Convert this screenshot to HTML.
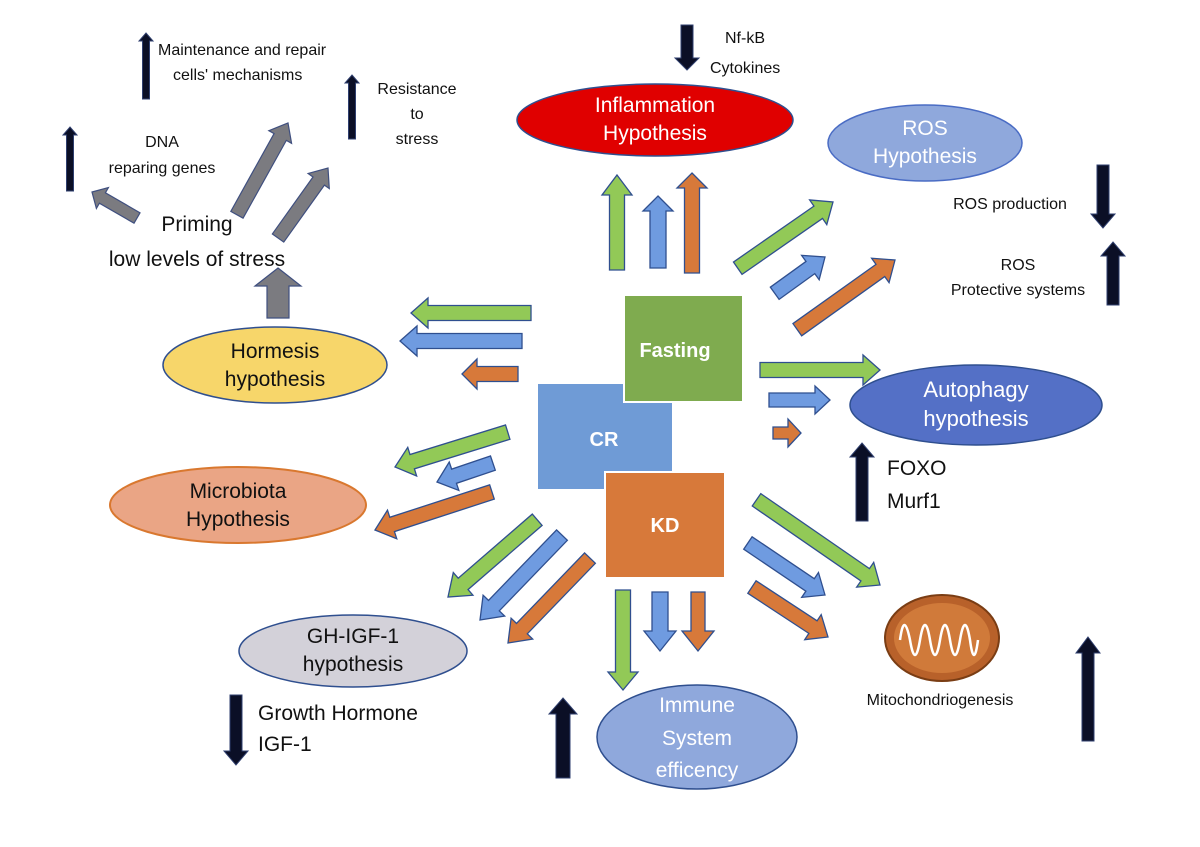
<!DOCTYPE html>
<html><head><meta charset="utf-8"><style>
html,body{margin:0;padding:0;background:#fff}
svg{display:block}
text{font-family:"Liberation Sans",sans-serif}
</style></head><body>
<svg width="1200" height="847" viewBox="0 0 1200 847" xmlns="http://www.w3.org/2000/svg">
<defs>
<!-- arrow along +x -->
<polygon id="aG" points="0,-7.5 -20,-7.5 -20,-15 0,0 -20,15 -20,7.5" />
</defs>
<rect width="1200" height="847" fill="#fff"/>

<!-- Ellipses -->
<ellipse cx="655" cy="120" rx="138" ry="36" fill="#e00000" stroke="#2f4f8f" stroke-width="1.5"/>
<text x="655" y="112" font-size="21" fill="#fff" text-anchor="middle">Inflammation</text>
<text x="655" y="140" font-size="21" fill="#fff" text-anchor="middle">Hypothesis</text>

<ellipse cx="925" cy="143" rx="97" ry="38" fill="#8fa8dc" stroke="#4a6cc4" stroke-width="1.5"/>
<text x="925" y="135" font-size="21" fill="#fff" text-anchor="middle">ROS</text>
<text x="925" y="163" font-size="21" fill="#fff" text-anchor="middle">Hypothesis</text>

<ellipse cx="976" cy="405" rx="126" ry="40" fill="#5470c6" stroke="#2f4f8f" stroke-width="1.5"/>
<text x="976" y="397" font-size="22" fill="#fff" text-anchor="middle">Autophagy</text>
<text x="976" y="426" font-size="22" fill="#fff" text-anchor="middle">hypothesis</text>

<ellipse cx="275" cy="365" rx="112" ry="38" fill="#f7d66a" stroke="#2f4f8f" stroke-width="1.5"/>
<text x="275" y="358" font-size="21" fill="#111" text-anchor="middle">Hormesis</text>
<text x="275" y="386" font-size="21" fill="#111" text-anchor="middle">hypothesis</text>

<ellipse cx="238" cy="505" rx="128" ry="38" fill="#eaa585" stroke="#d9782f" stroke-width="2"/>
<text x="238" y="498" font-size="21" fill="#111" text-anchor="middle">Microbiota</text>
<text x="238" y="526" font-size="21" fill="#111" text-anchor="middle">Hypothesis</text>

<ellipse cx="353" cy="651" rx="114" ry="36" fill="#d3d1d9" stroke="#2f4f8f" stroke-width="1.5"/>
<text x="353" y="643" font-size="21" fill="#111" text-anchor="middle">GH-IGF-1</text>
<text x="353" y="671" font-size="21" fill="#111" text-anchor="middle">hypothesis</text>

<ellipse cx="697" cy="737" rx="100" ry="52" fill="#8fa8dc" stroke="#2f4f8f" stroke-width="1.5"/>
<text x="697" y="712" font-size="21" fill="#fff" text-anchor="middle">Immune</text>
<text x="697" y="745" font-size="21" fill="#fff" text-anchor="middle">System</text>
<text x="697" y="777" font-size="21" fill="#fff" text-anchor="middle">efficency</text>

<!-- Mitochondrion -->
<ellipse cx="942" cy="638" rx="57" ry="43" fill="#b8612a" stroke="#7a3d14" stroke-width="2"/>
<ellipse cx="942" cy="638" rx="48" ry="35" fill="#d07a3a"/>
<path d="M900,640 q4,-30 10,0 q5,30 10,0 q5,-30 10,0 q5,30 10,0 q5,-30 10,0 q5,30 10,0 q5,-30 10,0 q4,30 8,0" fill="none" stroke="#fff" stroke-width="2.5"/>
<text x="940" y="705" font-size="16" fill="#111" text-anchor="middle">Mitochondriogenesis</text>

<!-- Boxes -->
<rect x="537" y="383" width="136" height="107" fill="#6f9bd6" stroke="#fff" stroke-width="2"/>
<rect x="624" y="295" width="119" height="107" fill="#7fab4f" stroke="#fff" stroke-width="2"/>
<rect x="605" y="472" width="120" height="106" fill="#d7793a" stroke="#fff" stroke-width="2"/>
<text x="675" y="357" font-size="20" font-weight="bold" fill="#fff" text-anchor="middle">Fasting</text>
<text x="604" y="446" font-size="20" font-weight="bold" fill="#fff" text-anchor="middle">CR</text>
<text x="665" y="532" font-size="20" font-weight="bold" fill="#fff" text-anchor="middle">KD</text>

<!-- Colored arrows: translate(tip) rotate(angle) with shape pointing to +x, tail negative -->
<g stroke="#2f4f8f" stroke-width="1.3">
<!-- up -->
<polygon fill="#92c957" transform="translate(617,175) rotate(-90)" points="0,0 -20,15 -20,7.5 -95,7.5 -95,-7.5 -20,-7.5 -20,-15"/>
<polygon fill="#6f9be0" transform="translate(658,196) rotate(-90)" points="0,0 -15,15 -15,8 -72,8 -72,-8 -15,-8 -15,-15"/>
<polygon fill="#d7793a" transform="translate(692,173) rotate(-90)" points="0,0 -15,15 -15,7.5 -100,7.5 -100,-7.5 -15,-7.5 -15,-15"/>
<!-- upper right -->
<polygon fill="#92c957" transform="translate(833,202) rotate(-34.8)" points="0,0 -18,15 -18,7.5 -116,7.5 -116,-7.5 -18,-7.5 -18,-15"/>
<polygon fill="#6f9be0" transform="translate(825,257) rotate(-35.8)" points="0,0 -18,15 -18,7.5 -62,7.5 -62,-7.5 -18,-7.5 -18,-15"/>
<polygon fill="#d7793a" transform="translate(895,260) rotate(-35.5)" points="0,0 -18,15 -18,7.5 -120,7.5 -120,-7.5 -18,-7.5 -18,-15"/>
<!-- right -->
<polygon fill="#92c957" transform="translate(880,370)" points="0,0 -17,15 -17,7.5 -120,7.5 -120,-7.5 -17,-7.5 -17,-15"/>
<polygon fill="#6f9be0" transform="translate(830,400)" points="0,0 -15,14 -15,7 -61,7 -61,-7 -15,-7 -15,-14"/>
<polygon fill="#d7793a" transform="translate(801,433)" points="0,0 -13,14 -13,6 -28,6 -28,-6 -13,-6 -13,-14"/>
<!-- left -->
<polygon fill="#92c957" transform="translate(411,313) rotate(180)" points="0,0 -17,15 -17,7.5 -120,7.5 -120,-7.5 -17,-7.5 -17,-15"/>
<polygon fill="#6f9be0" transform="translate(400,341) rotate(180)" points="0,0 -17,15 -17,7.5 -122,7.5 -122,-7.5 -17,-7.5 -17,-15"/>
<polygon fill="#d7793a" transform="translate(462,374) rotate(180)" points="0,0 -15,15 -15,7.5 -56,7.5 -56,-7.5 -15,-7.5 -15,-15"/>
<!-- lower left -->
<polygon fill="#92c957" transform="translate(395,467) rotate(162.8)" points="0,0 -18,15 -18,7.5 -118,7.5 -118,-7.5 -18,-7.5 -18,-15"/>
<polygon fill="#6f9be0" transform="translate(437,482) rotate(161.3)" points="0,0 -18,15 -18,7.5 -59,7.5 -59,-7.5 -18,-7.5 -18,-15"/>
<polygon fill="#d7793a" transform="translate(375,530) rotate(162)" points="0,0 -18,15 -18,7.5 -123,7.5 -123,-7.5 -18,-7.5 -18,-15"/>
<!-- down left -->
<polygon fill="#92c957" transform="translate(448,597) rotate(139.1)" points="0,0 -20,15 -20,7.5 -118,7.5 -118,-7.5 -20,-7.5 -20,-15"/>
<polygon fill="#6f9be0" transform="translate(480,620) rotate(134)" points="0,0 -20,15 -20,7.5 -118,7.5 -118,-7.5 -20,-7.5 -20,-15"/>
<polygon fill="#d7793a" transform="translate(508,643) rotate(134)" points="0,0 -20,15 -20,7.5 -118,7.5 -118,-7.5 -20,-7.5 -20,-15"/>
<!-- down -->
<polygon fill="#92c957" transform="translate(623,690) rotate(90)" points="0,0 -18,15 -18,7.5 -100,7.5 -100,-7.5 -18,-7.5 -18,-15"/>
<polygon fill="#6f9be0" transform="translate(660,651) rotate(90)" points="0,0 -20,16 -20,8 -59,8 -59,-8 -20,-8 -20,-16"/>
<polygon fill="#d7793a" transform="translate(698,651) rotate(90)" points="0,0 -20,16 -20,7 -59,7 -59,-7 -20,-7 -20,-16"/>
<!-- down right -->
<polygon fill="#92c957" transform="translate(880,585) rotate(34.6)" points="0,0 -18,15 -18,7.5 -150,7.5 -150,-7.5 -18,-7.5 -18,-15"/>
<polygon fill="#6f9be0" transform="translate(825,595) rotate(34)" points="0,0 -18,15 -18,7.5 -93,7.5 -93,-7.5 -18,-7.5 -18,-15"/>
<polygon fill="#d7793a" transform="translate(828,637) rotate(33.3)" points="0,0 -18,15 -18,7.5 -91,7.5 -91,-7.5 -18,-7.5 -18,-15"/>
</g>

<!-- Gray arrows -->
<g fill="#7b7b80" stroke="#3f4f7f" stroke-width="1.2">
<polygon transform="translate(278,268) rotate(-90)" points="0,0 -18,23 -18,11 -50,11 -50,-11 -18,-11 -18,-23"/>
<polygon transform="translate(92,192) rotate(-150)" points="0,0 -12,12 -12,6 -52,6 -52,-6 -12,-6 -12,-12"/>
<polygon transform="translate(288,123) rotate(-60.9)" points="0,0 -16,13 -16,7 -105,7 -105,-7 -16,-7 -16,-13"/>
<polygon transform="translate(328,168) rotate(-54.5)" points="0,0 -16,13 -16,7 -86,7 -86,-7 -16,-7 -16,-13"/>
</g>

<!-- Black arrows -->
<g fill="#0b0f26" stroke="#2f3f6f" stroke-width="1">
<polygon transform="translate(687,70) rotate(90)" points="0,0 -12,12 -12,6 -45,6 -45,-6 -12,-6 -12,-12"/>
<polygon transform="translate(146,33) rotate(-90)" points="0,0 -8,7 -8,3.5 -66,3.5 -66,-3.5 -8,-3.5 -8,-7"/>
<polygon transform="translate(70,127) rotate(-90)" points="0,0 -8,7 -8,3.5 -64,3.5 -64,-3.5 -8,-3.5 -8,-7"/>
<polygon transform="translate(352,75) rotate(-90)" points="0,0 -8,7 -8,3.5 -64,3.5 -64,-3.5 -8,-3.5 -8,-7"/>
<polygon transform="translate(1103,228) rotate(90)" points="0,0 -14,12 -14,6 -63,6 -63,-6 -14,-6 -14,-12"/>
<polygon transform="translate(1113,242) rotate(-90)" points="0,0 -14,12 -14,6 -63,6 -63,-6 -14,-6 -14,-12"/>
<polygon transform="translate(862,443) rotate(-90)" points="0,0 -14,12 -14,6 -78,6 -78,-6 -14,-6 -14,-12"/>
<polygon transform="translate(236,765) rotate(90)" points="0,0 -14,12 -14,6 -70,6 -70,-6 -14,-6 -14,-12"/>
<polygon transform="translate(563,698) rotate(-90)" points="0,0 -16,14 -16,7 -80,7 -80,-7 -16,-7 -16,-14"/>
<polygon transform="translate(1088,637) rotate(-90)" points="0,0 -16,12 -16,6 -104,6 -104,-6 -16,-6 -16,-12"/>
</g>

<!-- Labels -->
<g font-size="16" fill="#111">
<text x="725" y="43">Nf-kB</text>
<text x="710" y="73">Cytokines</text>
<text x="158" y="55">Maintenance and repair</text>
<text x="173" y="80">cells' mechanisms</text>
<text x="417" y="94" text-anchor="middle">Resistance</text>
<text x="417" y="119" text-anchor="middle">to</text>
<text x="417" y="144" text-anchor="middle">stress</text>
<text x="162" y="147" text-anchor="middle">DNA</text>
<text x="162" y="173" text-anchor="middle">reparing genes</text>
<text x="1010" y="209" text-anchor="middle">ROS production</text>
<text x="1018" y="270" text-anchor="middle">ROS</text>
<text x="1018" y="295" text-anchor="middle">Protective systems</text>
</g>
<g font-size="21" fill="#111">
<text x="197" y="231" text-anchor="middle">Priming</text>
<text x="197" y="266" text-anchor="middle">low levels of stress</text>
<text x="887" y="475">FOXO</text>
<text x="887" y="508">Murf1</text>
<text x="258" y="720">Growth Hormone</text>
<text x="258" y="751">IGF-1</text>
</g>
</svg>
</body></html>
